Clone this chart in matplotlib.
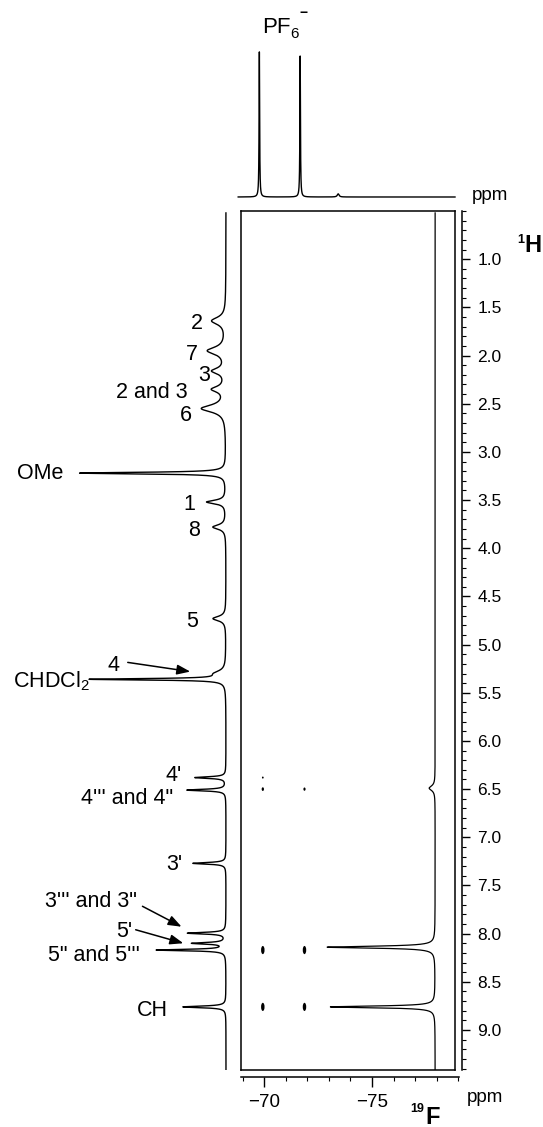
import numpy as np
import matplotlib
matplotlib.use("Agg")
import matplotlib.pyplot as plt
from matplotlib.patches import Ellipse, FancyArrowPatch
from matplotlib.ticker import FixedLocator, MultipleLocator

plt.rcParams['font.family'] = ['Liberation Sans', 'DejaVu Sans']
plt.rcParams['mathtext.fontset'] = 'custom'
plt.rcParams['mathtext.rm'] = 'Liberation Sans'
plt.rcParams['mathtext.it'] = 'Liberation Sans'
plt.rcParams['mathtext.bf'] = 'Liberation Sans:bold'

# ---------------- data ----------------
# 1H projection (left): peak positions (ppm), relative heights, half-widths (ppm)
h_peak_ppm = [1.64, 1.95, 2.16, 2.35, 2.55, 3.22, 3.52, 3.78, 4.73, 5.30, 5.36,
              6.38, 6.51, 7.27, 7.995, 8.10, 8.17, 8.76]
h_peak_int = [0.084, 0.108, 0.078, 0.078, 0.145, 0.88, 0.115, 0.078, 0.078, 0.06, 0.81,
              0.187, 0.235, 0.20, 0.23, 0.20, 0.416, 0.26]
h_peak_hw = [0.045, 0.045, 0.035, 0.035, 0.045, 0.010, 0.022, 0.028, 0.028, 0.035, 0.009,
             0.010, 0.010, 0.010, 0.010, 0.010, 0.009, 0.010]

# 19F projection (top)
f_peak_ppm = [-69.78, -71.67, -73.43]
f_peak_int = [0.924, 0.898, 0.02]
f_peak_hw = [0.015, 0.015, 0.05]

# F1 trace inside the 2D map (right)
tr_peak_ppm = [6.49, 8.14, 8.76]
tr_peak_int = [0.055, 1.0, 0.97]
tr_peak_hw = [0.03, 0.012, 0.011]

# HOESY cross peaks (19F ppm, 1H ppm, relative size)
cp_F = [-69.94, -71.87, -69.94, -71.87, -69.94, -71.87, -69.94]
cp_H = [8.17, 8.17, 8.76, 8.76, 6.50, 6.50, 6.38]
cp_size = [1.0, 1.0, 1.0, 1.0, 0.45, 0.4, 0.25]

# axis ticks
h_ticks = [1.0, 1.5, 2.0, 2.5, 3.0, 3.5, 4.0, 4.5, 5.0, 5.5, 6.0, 6.5, 7.0, 7.5, 8.0, 8.5, 9.0]
h_tick_labels = ["1.0", "1.5", "2.0", "2.5", "3.0", "3.5", "4.0", "4.5", "5.0",
                 "5.5", "6.0", "6.5", "7.0", "7.5", "8.0", "8.5", "9.0"]
f_ticks = [-70, -75]
f_tick_labels = ["\u221270", "\u221275"]

# peak labels on the 1H projection
labels = ["2", "7", "3", "2 and 3", "6", "OMe", "1", "8", "5", "4", "CHDCl$_2$",
          "4'", "4''' and 4\"", "3'", "3''' and 3\"", "5'", "5\" and 5'''", "CH"]

# ---------------- layout (pixel positions) ----------------
W, H = 543, 1127
fig = plt.figure(figsize=(W / 100, H / 100), dpi=100)


def fr(x0, y0, x1, y1):
    return [x0 / W, 1 - y1 / H, (x1 - x0) / W, (y1 - y0) / H]


def fp(x, y):
    return (x / W, 1 - y / H)


H_LIM = (9.415, 0.50)
F_LIM = (-68.93, -78.84)
LW = 1.0
LABEL_FS = 15.5


def lor(x, pos, amp, hw):
    out = np.zeros_like(x)
    for p, a, w in zip(pos, amp, hw):
        out += a * w ** 2 / ((x - p) ** 2 + w ** 2)
    return out


# main 2D map
ax = fig.add_axes(fr(241, 211, 455, 1070))
ax.set_xlim(*F_LIM)
ax.set_ylim(*H_LIM)
ax.set_xticks([])
ax.set_yticks([])
for s in ax.spines.values():
    s.set_linewidth(1.1)

hgrid = np.linspace(0.52, 9.41, 30000)
trace = -77.92 + 5.0 * lor(hgrid, tr_peak_ppm, tr_peak_int, tr_peak_hw)
ax.plot(trace, hgrid, color='k', lw=0.9)

for fx, hy, sz in zip(cp_F, cp_H, cp_size):
    ax.add_patch(Ellipse((fx, hy), 0.16 * sz ** 0.5, 0.085 * sz, color='k', lw=0))

# left 1H projection
axl = fig.add_axes(fr(60, 211, 232, 1070))
axl.set_xlim(1.0, -6 / 166)
axl.set_ylim(*H_LIM)
axl.axis('off')
axl.plot(lor(hgrid, h_peak_ppm, h_peak_int, h_peak_hw), hgrid, color='k', lw=LW)

# top 19F projection
axt = fig.add_axes(fr(241, 40, 455, 200))
axt.set_xlim(*F_LIM)
axt.set_ylim(-3 / 157, 1.0)
axt.axis('off')
fgrid = np.linspace(-68.8, -78.84, 30000)
axt.plot(fgrid, lor(fgrid, f_peak_ppm, f_peak_int, f_peak_hw), color='k', lw=LW,
         clip_on=False)

# right 1H ruler
axr = fig.add_axes(fr(461, 211, 462, 1070))
axr.set_ylim(*H_LIM)
for s in ['left', 'top', 'bottom']:
    axr.spines[s].set_visible(False)
axr.spines['right'].set_linewidth(1.1)
axr.set_xticks([])
axr.yaxis.tick_right()
axr.yaxis.set_major_locator(FixedLocator(h_ticks))
axr.set_yticklabels(h_tick_labels)
axr.yaxis.set_minor_locator(MultipleLocator(0.1))
axr.tick_params(axis='y', which='major', length=6, width=1.0, pad=5, labelsize=12.5)
axr.tick_params(axis='y', which='minor', length=3, width=0.8)
axr.patch.set_visible(False)

# bottom 19F ruler
axb = fig.add_axes(fr(241, 1076, 459, 1077))
axb.set_xlim(-68.93, -79.03)
for s in ['left', 'top', 'right']:
    axb.spines[s].set_visible(False)
axb.spines['bottom'].set_linewidth(1.1)
axb.set_yticks([])
axb.xaxis.set_major_locator(FixedLocator(f_ticks))
axb.set_xticklabels(f_tick_labels)
axb.xaxis.set_minor_locator(MultipleLocator(1))
axb.tick_params(axis='x', which='major', length=7, width=1.0, pad=5, labelsize=13.5)
axb.tick_params(axis='x', which='minor', length=3, width=0.8)
axb.patch.set_visible(False)

# peak labels (right edge x, vertical centre y in pixels)
label_pos = [(203, 321), (198, 352), (210, 373), (188, 390), (192, 413), (63, 471),
             (195, 502), (200, 528), (198, 619), (120, 663), (90, 679),
             (182, 773), (173, 796), (182, 862), (137, 899), (132, 929), (140, 953),
             (168, 1008)]
for txt, (x, y) in zip(labels, label_pos):
    fig.text(*fp(x, y + 8), txt, ha='right', va='baseline', fontsize=LABEL_FS)

# arrows
arrows = [((125, 662), (193, 672)), ((140, 905), (184, 928)), ((133, 929), (186, 944))]
for (x0, y0), (x1, y1) in arrows:
    fig.add_artist(FancyArrowPatch(
        fp(x0, y0), fp(x1, y1), transform=fig.transFigure,
        arrowstyle='-|>,head_length=8,head_width=3', color='k', lw=1.1))

# axis titles
fig.text(*fp(262, 17), "PF", ha='left', va='top', fontsize=16)
fig.text(*fp(290, 38), "6", ha='left', va='baseline', fontsize=11)
fig.text(*fp(304, 13), "\u2212", ha='center', va='center', fontsize=10, fontweight='bold')

fig.text(*fp(472, 200), "ppm", ha='left', va='baseline', fontsize=13.5)
fig.text(*fp(467, 1102), "ppm", ha='left', va='baseline', fontsize=13.5)

fig.text(*fp(524, 243), "1", ha='right', va='baseline', fontsize=9, fontweight='bold')
fig.text(*fp(524, 252), "H", ha='left', va='baseline', fontsize=17, fontweight='bold')
fig.text(*fp(424, 1112), "19", ha='right', va='baseline', fontsize=9, fontweight='bold')
fig.text(*fp(425, 1124), "F", ha='left', va='baseline', fontsize=17, fontweight='bold')

fig.savefig("out.png", dpi=100)
